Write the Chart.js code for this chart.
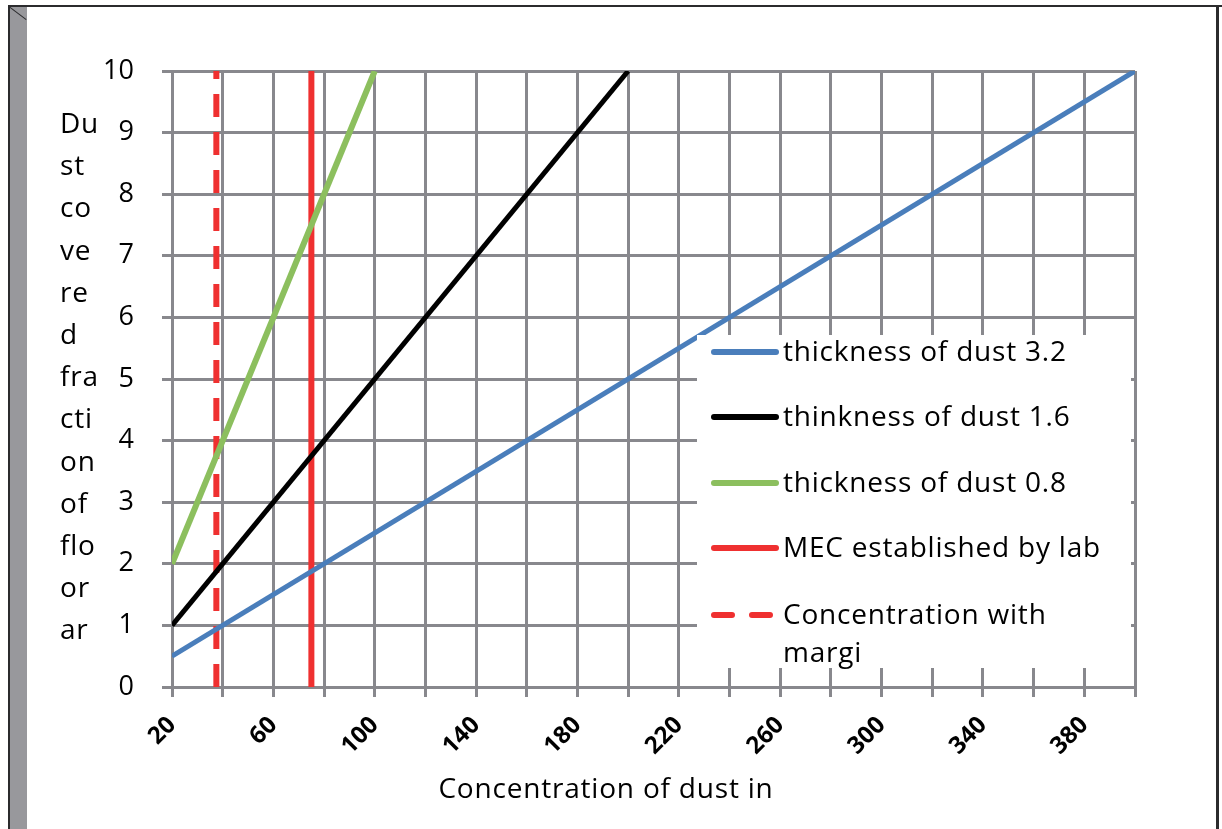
<!DOCTYPE html>
<html>
<head>
<meta charset="utf-8">
<script src="https://cdn.jsdelivr.net/npm/chart.js@4/dist/chart.umd.min.js"></script>
<style>
  html, body { margin: 0; padding: 0; background: #fff; }
  #wrap { position: relative; width: 1222px; height: 829px; overflow: hidden; }
  #dustChart { position: absolute; left: 0; top: 0; }
  .edge { position: absolute; background: #2b2b2d; }
  #band { position: absolute; left: 10px; top: 7px; width: 17px; height: 822px; background: #98989c; }
  #fold { position: absolute; left: 9px; top: 6px; width: 22px; height: 1px; background: #2b2b2d;
          transform-origin: 0 0; transform: rotate(37deg); }
</style>
</head>
<body>
<div id="wrap">
  <canvas id="dustChart" width="1222" height="829"></canvas>
  <div id="band"></div>
  <div class="edge" style="left:8px; top:5px; width:1214px; height:2px;"></div>
  <div class="edge" style="left:8px; top:5px; width:2px; height:824px;"></div>
  <div class="edge" style="left:1216px; top:5px; width:3px; height:824px;"></div>
  <div id="fold"></div>
</div>
<script>
        // series: concentration (x) vs dust covered fraction (y)
        const thick32X = [20, 400];
        const thick32Y = [0.5, 10];
        const thick16X = [20, 200];
        const thick16Y = [1, 10];
        const thick08X = [20, 100];
        const thick08Y = [2, 10];
        const mecX = [75, 75];
        const mecY = [0, 10];
        const marginX = [37.5, 37.5];
        const marginY = [0, 10];

        const seriesNames = [
            'thickness of dust 3.2',
            'thinkness of dust 1.6',
            'thickness of dust 0.8',
            'MEC established by lab',
            ['Concentration with', 'margi']
        ];
        const xTickLabels = [20, 60, 100, 140, 180, 220, 260, 300, 340, 380];
        const yTickLabels = [0, 1, 2, 3, 4, 5, 6, 7, 8, 9, 10];
        const yTitleLines = ['Du', 'st', 'co', 've', 're', 'd', 'fra', 'cti', 'on', 'of', 'flo', 'or', 'ar'];
        const xTitle = 'Concentration of dust in';

        const FONT = '"Open Sans", sans-serif';
        const GRID = '#88888d';

        function toPoints(xs, ys) {
            return xs.map((x, i) => ({ x: x, y: ys[i] }));
        }

        function series(label, xs, ys, color, width, dash) {
            return {
                label: label,
                data: toPoints(xs, ys),
                showLine: true,
                borderColor: color,
                backgroundColor: color,
                borderWidth: width,
                borderDash: dash || [],
                borderCapStyle: 'butt',
                pointRadius: 0,
                pointHoverRadius: 0
            };
        }

        // boxed legend sitting inside the plot, the wrapped y title and the x title
        const sidePieces = {
            id: 'sidePieces',
            afterDatasetsDraw(chart) {
                const ctx = chart.ctx;
                ctx.save();
                ctx.fillStyle = '#fff';
                ctx.fillRect(697, 335, 434, 333);

                ctx.font = '28px ' + FONT;
                ctx.letterSpacing = '0.8px';
                ctx.textBaseline = 'middle';
                ctx.textAlign = 'left';
                const rows = [352, 417, 483, 548, 615];
                chart.data.datasets.forEach((ds, i) => {
                    const y = rows[i];
                    ctx.strokeStyle = ds.borderColor;
                    ctx.lineWidth = 6;
                    ctx.lineCap = 'round';
                    ctx.setLineDash(ds.borderDash.length ? [18, 20] : []);
                    ctx.beginPath();
                    ctx.moveTo(714, y);
                    ctx.lineTo(ds.borderDash.length ? 772 : 776, y);
                    ctx.stroke();
                    ctx.setLineDash([]);
                    ctx.fillStyle = '#000';
                    const lines = Array.isArray(ds.label) ? ds.label : [ds.label];
                    lines.forEach((t, k) => ctx.fillText(t, 783, y + 1 + k * 38));
                });

                ctx.textBaseline = 'alphabetic';
                yTitleLines.forEach((t, i) => ctx.fillText(t, 60, 133 + i * 42.2));

                ctx.textAlign = 'center';
                ctx.fillText(xTitle, 606, 798);
                ctx.restore();
            }
        };

        const chart = new Chart(document.getElementById('dustChart'), {
            type: 'scatter',
            data: {
                datasets: [
                    series(seriesNames[0], thick32X, thick32Y, '#4a7ebb', 5),
                    series(seriesNames[1], thick16X, thick16Y, '#000000', 5),
                    series(seriesNames[2], thick08X, thick08Y, '#8cbf5e', 6),
                    series(seriesNames[3], mecX, mecY, '#ef3030', 6),
                    series(seriesNames[4], marginX, marginY, '#ef3030', 6, [23, 15])
                ]
            },
            options: {
                responsive: false,
                animation: false,
                events: [],
                layout: { padding: { top: 71, right: 87, left: 0, bottom: 0 } },
                plugins: {
                    legend: { display: false },
                    tooltip: { enabled: false }
                },
                scales: {
                    x: {
                        type: 'linear',
                        min: 20,
                        max: 400,
                        afterFit: s => { s.height = 142; },
                        border: { color: GRID, width: 3 },
                        grid: { color: GRID, lineWidth: 3, tickLength: 10, tickColor: GRID, tickWidth: 3 },
                        ticks: {
                            stepSize: 20,
                            autoSkip: false,
                            minRotation: 45,
                            maxRotation: 45,
                            padding: 14,
                            color: '#000',
                            font: { family: FONT, size: 24, weight: 'bold' },
                            callback: v => xTickLabels.includes(v) ? String(v) : ''
                        }
                    },
                    y: {
                        type: 'linear',
                        min: 0,
                        max: 10,
                        afterFit: s => { s.width = 172; },
                        border: { color: GRID, width: 3 },
                        grid: { color: GRID, lineWidth: 3, tickLength: 10, tickColor: GRID, tickWidth: 3 },
                        ticks: {
                            stepSize: 1,
                            padding: 28,
                            color: '#000',
                            font: { family: FONT, size: 27 },
                            callback: v => yTickLabels.includes(v) ? String(v) : ''
                        }
                    }
                }
            },
            plugins: [sidePieces]
        });
</script>
</body>
</html>
